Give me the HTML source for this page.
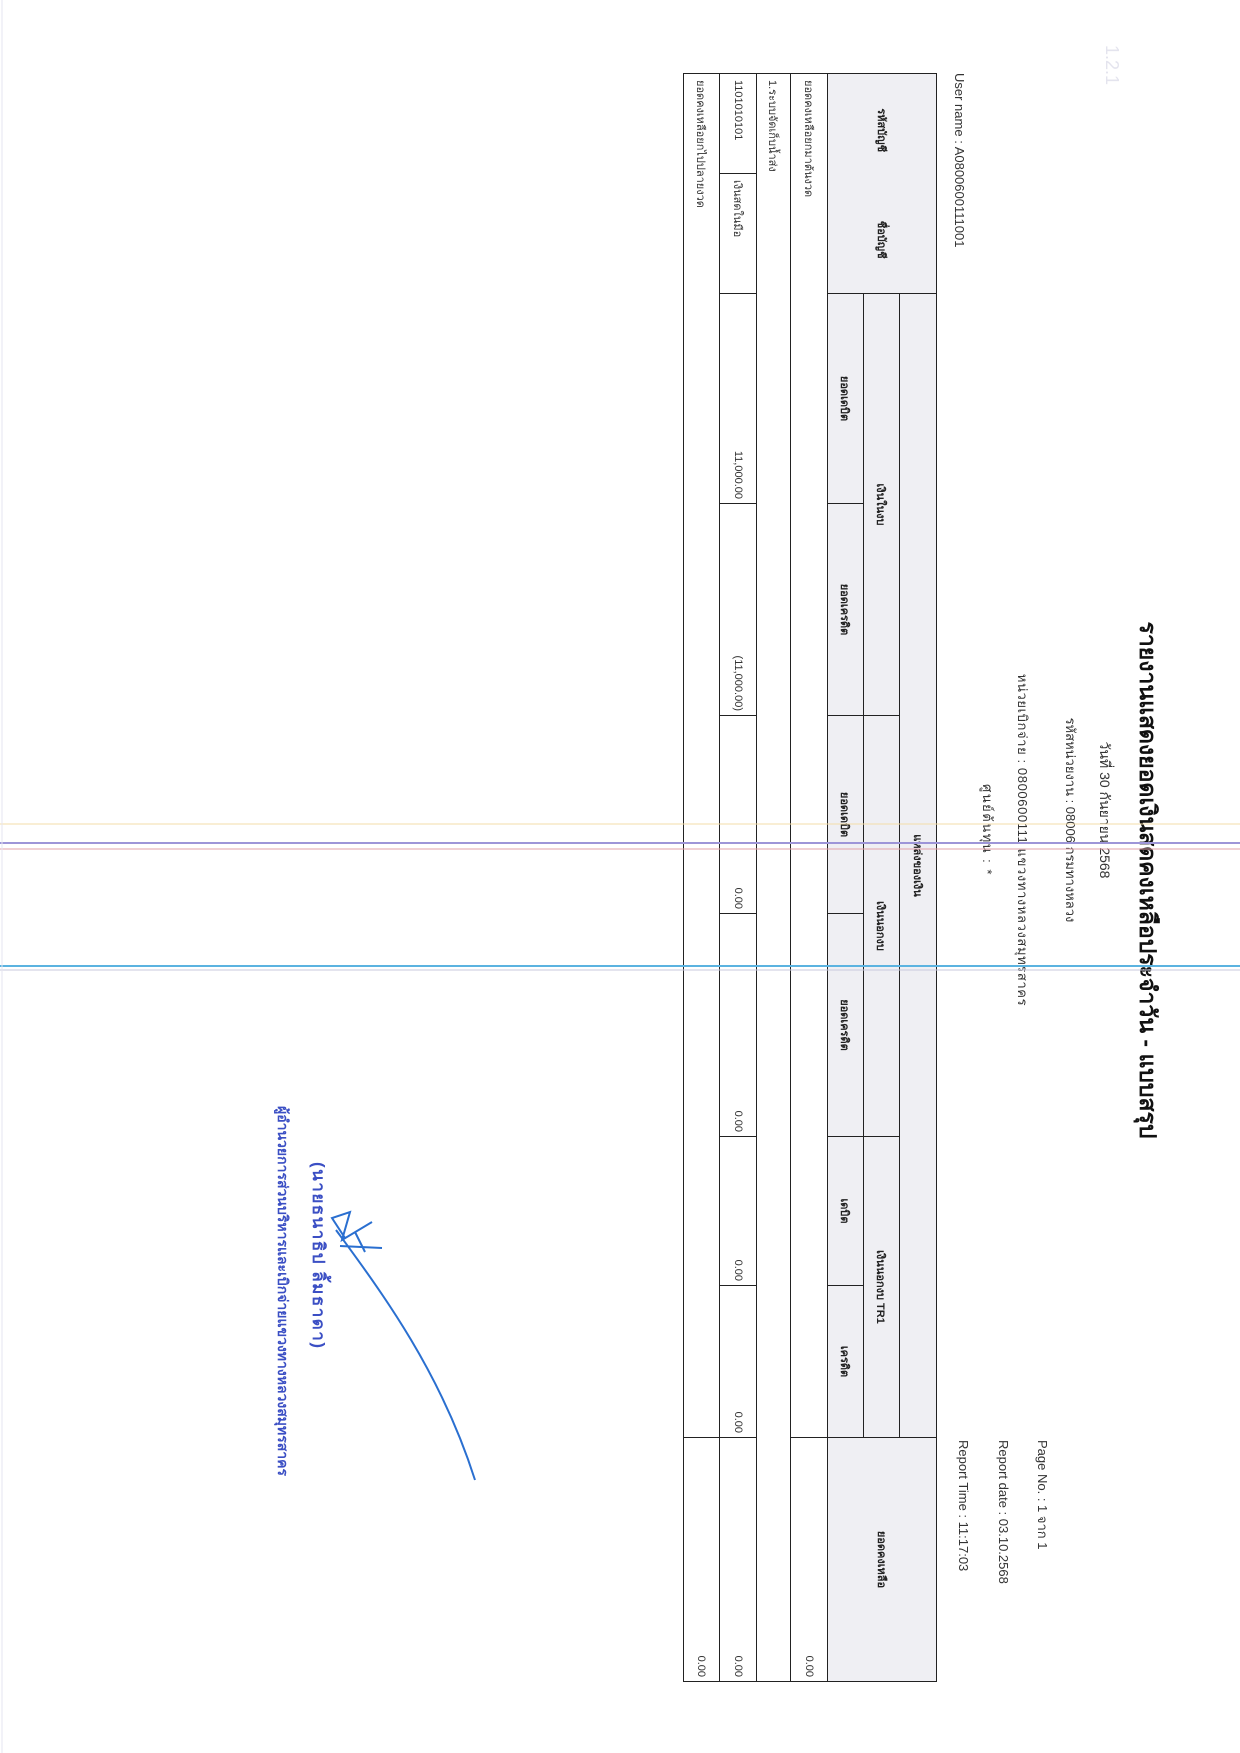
<!DOCTYPE html>
<html><head><meta charset="utf-8">
<style>
html,body{margin:0;padding:0;background:#fff;}
body{width:1240px;height:1753px;position:relative;overflow:hidden;font-family:"Liberation Sans","DejaVu Sans",sans-serif;}
#pg{position:absolute;left:0;top:0;width:1753px;height:1240px;transform-origin:0 0;transform:translateX(1240px) rotate(90deg);}
.t{position:absolute;white-space:nowrap;line-height:20px;height:20px;color:#333;}
.c{position:absolute;box-sizing:border-box;border:1px solid #222;font-size:11px;color:#333;display:flex;align-items:center;overflow:hidden;white-space:nowrap;}
.h{background:#efeff3;font-weight:bold;justify-content:center;color:#222;}
.l{justify-content:flex-start;padding-left:6px;}
.r{justify-content:flex-end;padding-right:4px;}
</style></head><body>
<div id="pg">
<div class="t" style="left:480px;width:800px;top:82px;text-align:center;font-size:23px;font-weight:bold;color:#111;">รายงานแสดงยอดเงินสดคงเหลือประจำวัน - แบบสรุป</div>
<div class="t" style="left:410px;width:800px;top:125px;text-align:center;font-size:14px;">วันที่ 30 กันยายน 2568</div>
<div class="t" style="left:420px;width:800px;top:160px;text-align:center;font-size:13px;">รหัสหน่วยงาน : 08006 กรมทางหลวง</div>
<div class="t" style="left:440px;width:800px;top:208px;text-align:center;font-size:13px;letter-spacing:0.6px;">หน่วยเบิกจ่าย : 0800600111 แขวงทางหลวงสมุทรสาคร</div>
<div class="t" style="left:430px;width:800px;top:243px;text-align:center;font-size:13px;letter-spacing:1.5px;">ศูนย์ต้นทุน : *</div>
<div class="t" style="left:1440px;top:188px;font-size:13px;">Page No. : 1 จาก 1</div>
<div class="t" style="left:1440px;top:227px;font-size:13px;">Report date : 03.10.2568</div>
<div class="t" style="left:1440px;top:267px;font-size:13px;">Report Time : 11:17:03</div>
<div class="t" style="left:73px;top:271px;font-size:13px;">User name : A0800600111001</div>

<!-- header -->
<div class="c h" style="left:73px;top:303px;width:221px;height:110px;justify-content:space-around;"><span>รหัสบัญชี</span><span>ชื่อบัญชี</span></div>
<div class="c h" style="left:293px;top:303px;width:1145px;height:38px;">แหล่งของเงิน</div>
<div class="c h" style="left:293px;top:340px;width:423px;height:37px;">เงินในงบ</div>
<div class="c h" style="left:715px;top:340px;width:422px;height:37px;">เงินนอกงบ</div>
<div class="c h" style="left:1136px;top:340px;width:302px;height:37px;">เงินนอกงบ TR1</div>
<div class="c h" style="left:293px;top:376px;width:211px;height:37px;">ยอดเดบิต</div>
<div class="c h" style="left:503px;top:376px;width:213px;height:37px;">ยอดเครดิต</div>
<div class="c h" style="left:715px;top:376px;width:199px;height:37px;">ยอดเดบิต</div>
<div class="c h" style="left:913px;top:376px;width:224px;height:37px;">ยอดเครดิต</div>
<div class="c h" style="left:1136px;top:376px;width:150px;height:37px;">เดบิต</div>
<div class="c h" style="left:1285px;top:376px;width:153px;height:37px;">เครดิต</div>
<div class="c h" style="left:1437px;top:303px;width:245px;height:110px;">ยอดคงเหลือ</div>

<!-- body -->
<div class="c l" style="left:73px;top:412px;width:1365px;height:38px;">ยอดคงเหลือยกมาต้นงวด</div>
<div class="c r" style="left:1437px;top:412px;width:245px;height:38px;">0.00</div>
<div class="c l" style="left:73px;top:449px;width:1609px;height:35px;">1.ระบบจัดเก็บน้ำส่ง</div>
<div class="c l" style="left:73px;top:483px;width:101px;height:38px;">1101010101</div>
<div class="c l" style="left:173px;top:483px;width:121px;height:38px;">เงินสดในมือ</div>
<div class="c r" style="left:293px;top:483px;width:211px;height:38px;">11,000.00</div>
<div class="c r" style="left:503px;top:483px;width:213px;height:38px;">(11,000.00)</div>
<div class="c r" style="left:715px;top:483px;width:199px;height:38px;">0.00</div>
<div class="c r" style="left:913px;top:483px;width:224px;height:38px;">0.00</div>
<div class="c r" style="left:1136px;top:483px;width:150px;height:38px;">0.00</div>
<div class="c r" style="left:1285px;top:483px;width:153px;height:38px;">0.00</div>
<div class="c r" style="left:1437px;top:483px;width:245px;height:38px;">0.00</div>
<div class="c l" style="left:73px;top:520px;width:1365px;height:37px;">ยอดคงเหลือยกไปปลายงวด</div>
<div class="c r" style="left:1437px;top:520px;width:245px;height:37px;">0.00</div>

<!-- signature text -->
<div class="t" style="left:1162px;top:912px;font-size:17px;font-weight:bold;color:#3b4fc4;letter-spacing:1.5px;">(นายธนาธิป ลิ้มธาดา)</div>
<div class="t" style="left:1106px;top:947px;font-size:14px;font-weight:bold;color:#3b4fc4;">ผู้อำนวยการส่วนบริหารและเบิกจ่ายแขวงทางหลวงสมุทรสาคร</div>
<div class="t" style="left:45px;top:118px;font-size:18px;color:#e4e4ee;">1.2.1</div>
</div>

<svg width="1240" height="1753" style="position:absolute;left:0;top:0;pointer-events:none">
<line x1="0" y1="824" x2="1240" y2="824" stroke="#f3dca8" stroke-width="1"/>
<line x1="0" y1="843" x2="1240" y2="843" stroke="#9d95d8" stroke-width="2"/>
<line x1="0" y1="849" x2="1240" y2="849" stroke="#e0a0a8" stroke-width="1"/>
<line x1="0" y1="966" x2="1240" y2="966" stroke="#5bb3e0" stroke-width="2"/>
<line x1="0" y1="970" x2="1240" y2="970" stroke="#c8c8dc" stroke-width="1"/>
<line x1="2" y1="0" x2="2" y2="1753" stroke="#e6e6f0" stroke-width="1"/>
<path d="M336 1230 C380 1290 440 1370 475 1480" stroke="#2a6fd0" stroke-width="2" fill="none"/>
<path d="M345 1238 L332 1218 L350 1212 L342 1240 L372 1222 M340 1246 L382 1248 M355 1232 L365 1252" stroke="#2a6fd0" stroke-width="2" fill="none"/>
</svg>
</body></html>
